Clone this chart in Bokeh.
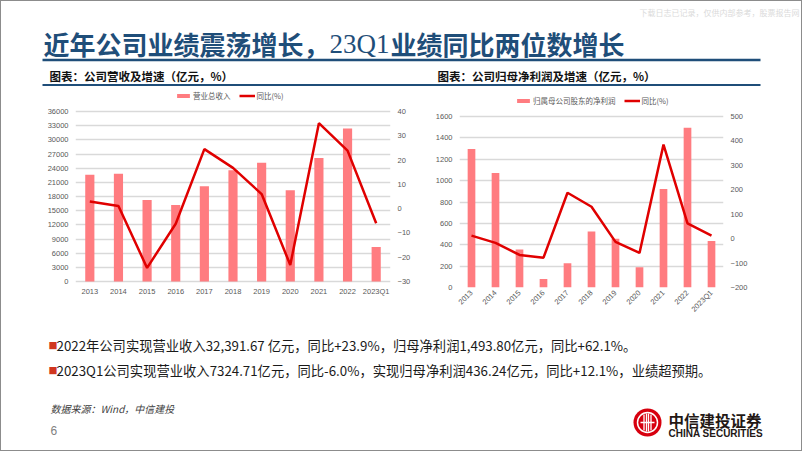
import math
from bokeh.plotting import figure
from bokeh.models import Range1d, FactorRange, LinearAxis, FixedTicker, Legend, LegendItem
from bokeh.layouts import column, row
from bokeh.core.properties import value
from bokeh.embed import file_html
from bokeh.resources import INLINE

# ---------------- data ----------------
categories = ["2013", "2014", "2015", "2016", "2017", "2018", "2019", "2020", "2021", "2022", "2023Q1"]
revenue = [22580, 22830, 17250, 16190, 20160, 23540, 25170, 19340, 26140, 32390, 7320]
revenue_yoy = [2.9, 1.1, -24.4, -6.2, 24.5, 16.8, 6.0, -23.2, 35.2, 23.9, -6.0]
net_profit = [1295, 1072, 355, 79, 227, 525, 456, 190, 921, 1494, 436]
net_profit_yoy = [12.5, -17.3, -66.9, -77.9, 188.0, 130.7, -13.1, -58.4, 384.8, 62.1, 12.1]

rev_ticks = [0, 3000, 6000, 9000, 12000, 15000, 18000, 21000, 24000, 27000, 30000, 33000, 36000]
rev_yoy_ticks = [-30, -20, -10, 0, 10, 20, 30, 40]
np_ticks = [0, 200, 400, 600, 800, 1000, 1200, 1400, 1600]
np_yoy_ticks = [-200, -100, 0, 100, 200, 300, 400, 500]

CJK = "Noto Sans CJK SC"
BAR = "#ff7c80"
LINE = "#e00000"
BLUE = "#1f4e79"
GRID = "#d9d9d9"
LABEL = "#595959"

ROW_H = 243
FRAME_H = 199   # both chart frames span the same rows (Bokeh aligns them)


def style_axis(ax, standoff):
    ax.axis_line_color = None
    ax.major_tick_line_color = None
    ax.minor_tick_line_color = None
    ax.major_tick_out = 0
    ax.major_tick_in = 0
    ax.minor_tick_out = 0
    ax.minor_tick_in = 0
    ax.major_label_text_font = "Liberation Sans"
    ax.major_label_text_font_size = "7.5px"
    ax.major_label_text_color = LABEL
    ax.major_label_standoff = standoff


def padded(ticks, grid_h, gap_top, gap_bottom):
    # value range whose tick grid covers grid_h px, leaving gap px above / below
    lo, hi = ticks[0], ticks[-1]
    unit = (hi - lo) / grid_h
    return Range1d(lo - gap_bottom * unit, hi + gap_top * unit)


def make_chart(width, b_left, b_right, grid_h, gap_top, gap_bottom, bars, bar_ticks, yoy,
               yoy_ticks, bar_name, legend_xy, rotate, x_standoff):
    p = figure(width=width, height=ROW_H,
               x_range=FactorRange(factors=categories),
               y_range=padded(bar_ticks, grid_h, gap_top, gap_bottom),
               output_backend="svg", toolbar_location=None,
               min_border_left=b_left, min_border_right=b_right,
               min_border_top=0, min_border_bottom=ROW_H - FRAME_H,
               outline_line_color=None, background_fill_color="white",
               border_fill_color="white")
    p.extra_y_ranges = {"yoy": padded(yoy_ticks, grid_h, gap_top, gap_bottom)}
    p.xgrid.visible = False
    p.ygrid.ticker = FixedTicker(ticks=bar_ticks)
    p.ygrid.grid_line_color = GRID
    p.ygrid.grid_line_width = 1.3

    p.yaxis.ticker = FixedTicker(ticks=bar_ticks)
    style_axis(p.yaxis[0], 7)
    style_axis(p.xaxis[0], x_standoff)
    if rotate:
        p.xaxis.major_label_orientation = math.pi / 4

    rax = LinearAxis(y_range_name="yoy", ticker=FixedTicker(ticks=yoy_ticks))
    style_axis(rax, 7)
    p.add_layout(rax, "right")

    rb = p.vbar(x=categories, top=bars, width=0.32, fill_color=BAR, line_color=None)
    rl = p.line(x=categories, y=yoy, y_range_name="yoy", line_color=LINE, line_width=2.5)

    leg = Legend(items=[LegendItem(label=bar_name, renderers=[rb]),
                        LegendItem(label="同比(%)", renderers=[rl])],
                 location=legend_xy, orientation="horizontal")
    leg.background_fill_alpha = 0
    leg.border_line_alpha = 0
    leg.padding = 0
    leg.margin = 0
    leg.spacing = 8
    leg.glyph_width = 16
    leg.glyph_height = 5
    leg.label_standoff = 2
    leg.label_height = 10
    leg.label_text_font = CJK
    leg.label_text_font_size = "7.5px"
    leg.label_text_color = LABEL
    p.add_layout(leg)
    return p


p1 = make_chart(419, 74, 30, 170, 23, 6, revenue, rev_ticks, revenue_yoy, rev_yoy_ticks,
                "营业总收入", (100, 186), False, -1)
p2 = make_chart(381, 39, 78, 171, 28, 0, net_profit, np_ticks, net_profit_yoy, np_yoy_ticks,
                "归属母公司股东的净利润", (56, 181), True, 4)

# ---------------- header ----------------
header = figure(width=800, height=87, x_range=Range1d(1, 801), y_range=Range1d(88, 1),
                output_backend="svg", toolbar_location=None, x_axis_location=None,
                y_axis_location=None, min_border=0, outline_line_color=None)
header.grid.visible = False
header.text(x=[799], y=[12], text=["下载日志已记录，仅供内部参考，股票报告网"],
            text_font=value(CJK), text_font_size="8px", text_color="#dadada",
            text_align="right", text_baseline="middle")
header.text(x=[43], y=[43], text=["近年公司业绩震荡增长，"], text_font=value(CJK),
            text_font_size="26px", text_font_style="bold", text_color=BLUE,
            text_baseline="middle")
header.text(x=[329], y=[43], text=["23Q1"], text_font=value("Liberation Serif"),
            text_font_size="27px", text_color=BLUE, text_baseline="middle")
header.text(x=[390], y=[43], text=["业绩同比两位数增长"], text_font=value(CJK),
            text_font_size="26px", text_font_style="bold", text_color=BLUE,
            text_baseline="middle")
header.segment(x0=[42], y0=[59.5], x1=[760], y1=[59.5], line_color=BLUE, line_width=2.5)
header.text(x=[49, 437], y=[75, 75],
            text=["图表：公司营收及增速（亿元，%）", "图表：公司归母净利润及增速（亿元，%）"],
            text_font=value(CJK), text_font_size="11.5px", text_font_style="bold",
            text_color="#111111", text_baseline="middle")
header.segment(x0=[42], y0=[84.5], x1=[760], y1=[84.5], line_color=BLUE, line_width=2)

# ---------------- footer ----------------
footer = figure(width=800, height=119, x_range=Range1d(1, 801), y_range=Range1d(450, 331),
                output_backend="svg", toolbar_location=None, x_axis_location=None,
                y_axis_location=None, min_border=0, outline_line_color=None)
footer.grid.visible = False
footer.text(x=[48, 48], y=[345, 370], text=["■", "■"], text_font=value(CJK),
            text_font_size="9px", text_color="#d0361f", text_baseline="middle")
footer.text(x=[56, 56], y=[345, 370],
            text=["2022年公司实现营业收入32,391.67 亿元，同比+23.9%，归母净利润1,493.80亿元，同比+62.1%。",
                  "2023Q1公司实现营业收入7324.71亿元，同比-6.0%，实现归母净利润436.24亿元，同比+12.1%，业绩超预期。"],
            text_font=value(CJK), text_font_size="13.3px", text_color="#1a1a1a",
            text_baseline="middle")
footer.text(x=[50], y=[408], text=["数据来源：Wind，中信建投"], text_font=value(CJK),
            text_font_size="10px", text_font_style="italic", text_color="#404040",
            text_baseline="middle")
footer.text(x=[50], y=[430], text=["6"], text_font=value("Liberation Sans"),
            text_font_size="12px", text_color="#808080", text_baseline="middle")
# logo
footer.circle(x=[647], y=[422], radius=14, fill_color="#d7000f", line_color=None)
footer.circle(x=[647], y=[422], radius=10, fill_color=None, line_color="white", line_width=1.5)
footer.segment(x0=[643.5, 650.5, 646, 648], y0=[414, 414, 413, 413],
               x1=[643.5, 650.5, 646, 648], y1=[430, 430, 431, 431],
               line_color="white", line_width=1.3)
footer.segment(x0=[640], y0=[422], x1=[654], y1=[422], line_color="white", line_width=1.3)
footer.text(x=[668], y=[419], text=["中信建投证券"], text_font=value(CJK),
            text_font_size="15.5px", text_font_style="bold", text_color="#231815",
            text_baseline="middle")
footer.text(x=[668], y=[433], text=["CHINA SECURITIES"], text_font=value("Liberation Sans"),
            text_font_size="10px", text_font_style="bold", text_color="#231815",
            text_baseline="middle")

layout = column(header, row(p1, p2), footer, styles={"border": "1px solid #8c8c8c"})

open("out.html", "w").write(file_html(layout, INLINE))
